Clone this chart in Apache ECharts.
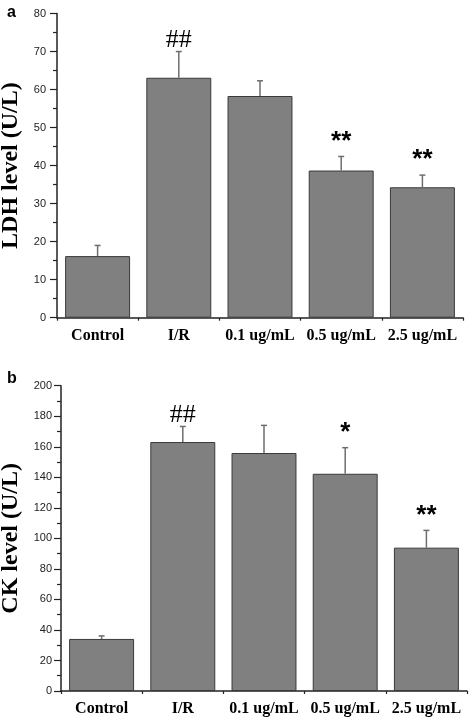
<!DOCTYPE html>
<html><head><meta charset="utf-8">
<script src="https://cdn.jsdelivr.net/npm/echarts@6/dist/echarts.min.js"></script>
<style>html,body{margin:0;padding:0;background:#fff}#c{width:472px;height:719px}</style>
</head><body><div id="c"></div>
<script>
const categories = ['Control', 'I/R', '0.1 ug/mL', '0.5 ug/mL', '2.5 ug/mL'];
const ldhValues = [16.2, 63.1, 58.3, 38.7, 34.3];
const ldhErrors = [2.8, 6.9, 4.0, 3.7, 3.2];
const ldhMarks = ['', '##', '', '**', '**'];
const ckValues = [34.1, 163.1, 155.9, 142.3, 93.9];
const ckErrors = [2.0, 10.2, 18.1, 17.1, 11.3];
const ckMarks = ['', '##', '', '*', '**'];
const ldhTicks = [0, 10, 20, 30, 40, 50, 60, 70, 80];
const ckTicks = [0, 20, 40, 60, 80, 100, 120, 140, 160, 180, 200];

const SERIF = '"Liberation Serif","Times New Roman",serif';
const SANS = '"Liberation Sans",Arial,sans-serif';

function errRender(values, errors, marks) {
  return function (params, api) {
    const i = api.value(0);
    const v = values[i], e = errors[i];
    const p0 = api.coord([i, v]);
    const p1 = api.coord([i, v + e]);
    const cap = 3;
    const style = { stroke: '#6e6e6e', lineWidth: 1.5 };
    const children = [
      { type: 'line', shape: { x1: p0[0], y1: p0[1], x2: p1[0], y2: p1[1] }, style },
      { type: 'line', shape: { x1: p1[0] - cap, y1: p1[1], x2: p1[0] + cap, y2: p1[1] }, style }
    ];
    const m = marks[i];
    if (m) {
      const isHash = m.indexOf('#') >= 0;
      children.push({
        type: 'text',
        style: {
          x: p1[0], y: p1[1] - (isHash ? 11 : 2),
          text: m,
          fill: '#000',
          font: isHash ? ('normal 26px ' + SERIF) : ('bold 26px ' + SANS),
          textAlign: 'center',
          textVerticalAlign: isHash ? 'middle' : 'bottom'
        }
      });
    }
    return { type: 'group', children };
  };
}

function yAxisCfg(gridIndex, name, ticks, margin, nameGap) {
  return {
    type: 'value', gridIndex,
    min: ticks[0], max: ticks[ticks.length - 1], interval: ticks[1] - ticks[0],
    name, nameLocation: 'middle', nameGap,
    nameTextStyle: { fontFamily: SERIF, fontWeight: 'bold', fontSize: 24, color: '#000' },
    axisLine: { show: true, lineStyle: { color: '#222', width: 1.5 } },
    axisTick: { show: true, length: 7, lineStyle: { color: '#222', width: 1.2 } },
    minorTick: { show: true, splitNumber: 2, length: 4, lineStyle: { color: '#222', width: 1.2 } },
    splitLine: { show: false },
    axisLabel: { fontFamily: SANS, fontSize: 11, color: '#222', margin }
  };
}

function xAxisCfg(gridIndex) {
  return [{
    type: 'category', gridIndex, data: categories,
    axisLine: { show: true, onZero: false, lineStyle: { color: '#222', width: 1.5 } },
    axisTick: { show: true, length: 3, alignWithLabel: false, lineStyle: { color: '#222', width: 1.2 } },
    axisLabel: { fontFamily: SERIF, fontWeight: 'bold', fontSize: 16, color: '#000', margin: 10, interval: 0 }
  }, {
    type: 'category', gridIndex, data: categories,
    axisLine: { show: false },
    axisTick: { show: true, length: 5, alignWithLabel: true, lineStyle: { color: '#222', width: 1.2 } },
    axisLabel: { show: false }
  }];
}

const barStyle = { color: '#808080', borderColor: '#3a3a3a', borderWidth: 1 };

const option = {
  animation: false,
  backgroundColor: '#fff',
  title: [
    { text: 'a', left: 2, top: 0, textStyle: { fontFamily: SANS, fontWeight: 'bold', fontSize: 16, color: '#000' } },
    { text: 'b', left: 2, top: 366, textStyle: { fontFamily: SANS, fontWeight: 'bold', fontSize: 16, color: '#000' } }
  ],
  grid: [
    { left: 57, top: 13.5, width: 406, height: 304.2, containLabel: false, outerBoundsMode: 'none' },
    { left: 61, top: 385.7, width: 406, height: 305.3, containLabel: false, outerBoundsMode: 'none' }
  ],
  xAxis: [...xAxisCfg(0), ...xAxisCfg(1)],
  yAxis: [
    yAxisCfg(0, 'LDH level (U/L)', ldhTicks, 11, 32),
    yAxisCfg(1, 'CK level (U/L)', ckTicks, 9, 36)
  ],
  series: [
    { type: 'bar', xAxisIndex: 0, yAxisIndex: 0, data: ldhValues, barCategoryGap: '20%', itemStyle: barStyle },
    { type: 'custom', xAxisIndex: 0, yAxisIndex: 0, data: categories.map((c, i) => [i, ldhValues[i] + ldhErrors[i]]),
      renderItem: errRender(ldhValues, ldhErrors, ldhMarks), z: 3 },
    { type: 'bar', xAxisIndex: 2, yAxisIndex: 1, data: ckValues, barCategoryGap: '20%', itemStyle: barStyle },
    { type: 'custom', xAxisIndex: 2, yAxisIndex: 1, data: categories.map((c, i) => [i, ckValues[i] + ckErrors[i]]),
      renderItem: errRender(ckValues, ckErrors, ckMarks), z: 3 }
  ]
};
const chart = echarts.init(document.getElementById('c'), null, { renderer: 'canvas' });
chart.setOption(option);
</script></body></html>
